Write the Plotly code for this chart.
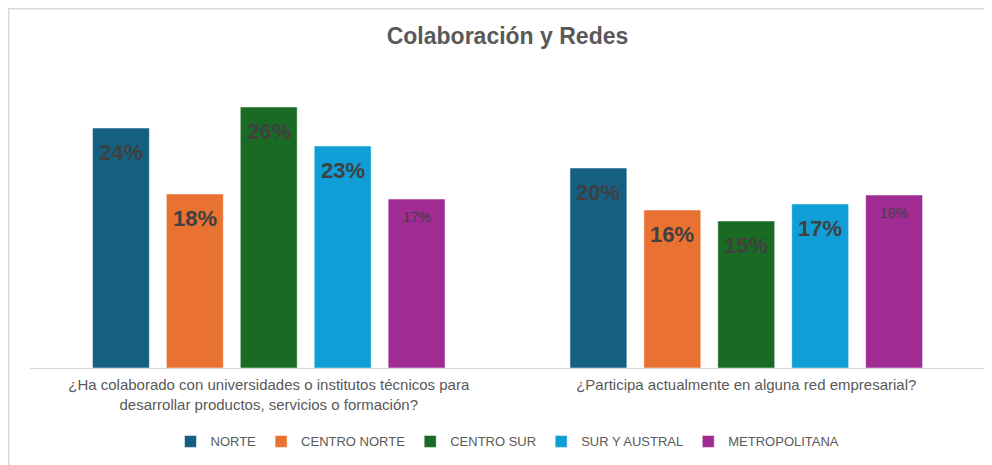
import plotly.graph_objects as go

categories = [
    "¿Ha colaborado con universidades o institutos técnicos para<br>desarrollar productos, servicios o formación?",
    "¿Participa actualmente en alguna red empresarial?",
]
regions = ["NORTE", "CENTRO NORTE", "CENTRO SUR", "SUR Y AUSTRAL", "METROPOLITANA"]
values = {
    "NORTE": [0.240, 0.200],
    "CENTRO NORTE": [0.174, 0.158],
    "CENTRO SUR": [0.261, 0.147],
    "SUR Y AUSTRAL": [0.222, 0.164],
    "METROPOLITANA": [0.169, 0.173],
}
labels = {
    "NORTE": ["24%", "20%"],
    "CENTRO NORTE": ["18%", "16%"],
    "CENTRO SUR": ["26%", "15%"],
    "SUR Y AUSTRAL": ["23%", "17%"],
    "METROPOLITANA": ["17%", "18%"],
}
colors = ["#156082", "#E97132", "#196B24", "#0F9ED5", "#A02B93"]

FONT = "Liberation Sans, Arial, sans-serif"

fig = go.Figure()
for i, r in enumerate(regions):
    fig.add_trace(go.Bar(
        x=categories, y=values[r], name=r,
        marker=dict(color=colors[i], line=dict(color="rgba(255,255,255,0.5)", width=1)),
        offsetgroup=str(i),
    ))

# data labels inside the top of each bar
for i, r in enumerate(regions):
    small = r == "METROPOLITANA"
    for j, c in enumerate(categories):
        fig.add_annotation(
            x=c, y=values[r][j], xref="x", yref="y",
            text=labels[r][j] if small else "<b>" + labels[r][j] + "</b>",
            showarrow=False,
            xshift=(i - 2) * 73.9, yanchor="top", yshift=-8 if small else -10,
            font=dict(family=FONT, size=14 if small else 22, color="#404040"),
        )

# chart frame (cut off at right and bottom like the original)
fig.add_shape(type="rect", xref="paper", yref="paper",
              x0=-0.0225, x1=1.2, y0=-0.5, y1=1.248,
              line=dict(color="#d9d9d9", width=2), layer="below")

fig.update_layout(
    width=992, height=465,
    margin=dict(l=22, r=15, t=72, b=105),
    paper_bgcolor="white", plot_bgcolor="white",
    barmode="group", bargap=0.226, bargroupgap=0.23,
    title=dict(text="<b>Colaboración y Redes</b>", x=0.5, xref="paper", xanchor="center",
               y=1 - 28 / 465, yref="container", yanchor="middle",
               font=dict(family=FONT, size=23, color="#595959")),
    font=dict(family=FONT, color="#595959"),
    legend=dict(orientation="h", x=0.5, xanchor="center", y=-0.255, yanchor="middle",
                font=dict(family=FONT, size=13, color="#595959"),
                itemwidth=30, traceorder="normal"),
    showlegend=True,
)
fig.update_xaxes(showline=True, linecolor="#d9d9d9", linewidth=1, ticks="",
                 ticklabelstandoff=3,
                 tickfont=dict(family=FONT, size=15, color="#595959"))
fig.update_yaxes(visible=False, range=[0, 0.288], showgrid=False)

fig.write_html("out.html")
